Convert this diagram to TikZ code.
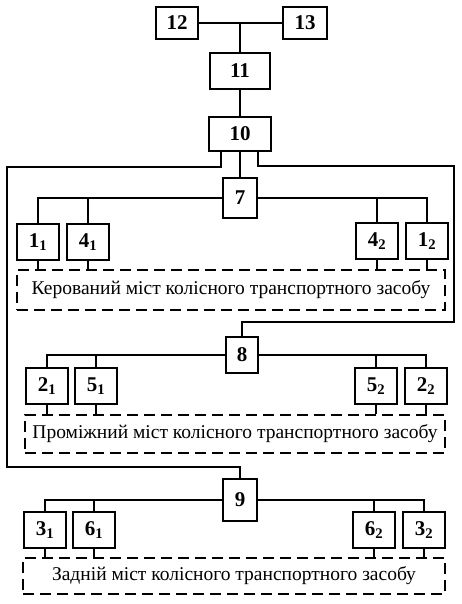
\documentclass[tikz,border=0pt]{standalone}
\usepackage{fontspec}
\setmainfont{Liberation Serif}

\begin{document}
\begin{tikzpicture}[x=1pt,y=-1pt,line width=2pt]

      \useasboundingbox (0,0) rectangle (462,604);

      \begin{scope}[every node/.style={draw,inner sep=0pt,minimum width=42pt,minimum height=36pt,
                    font=\fontsize{21}{21}\selectfont\bfseries}]
        \node (12) at (177,23)  [minimum height=32pt] {12};
        \node (13) at (305,23)  [minimum width=44pt,minimum height=32pt] {13};
        \node (11) at (240,71)  [minimum width=60pt] {11};
        \node (10) at (240,134) [minimum width=62pt,minimum height=34pt] {10};
        \node (7)  at (240,198) [minimum width=34pt,minimum height=40pt] {7};
        \node (8)  at (242,355) [minimum width=32pt] {8};
        \node (9)  at (240,500) [minimum width=34pt,minimum height=42pt] {9};
        \node (1l) at (38,242)  {1\textsubscript{1}};
        \node (4l) at (88,242)  {4\textsubscript{1}};
        \node (4r) at (377,241) {4\textsubscript{2}};
        \node (1r) at (427,241) {1\textsubscript{2}};
        \node (2l) at (47,386)  {2\textsubscript{1}};
        \node (5l) at (96,386)  {5\textsubscript{1}};
        \node (5r) at (376,386) {5\textsubscript{2}};
        \node (2r) at (426,386) {2\textsubscript{2}};
        \node (3l) at (45,530)  {3\textsubscript{1}};
        \node (6l) at (94,530)  {6\textsubscript{1}};
        \node (6r) at (374,530) {6\textsubscript{2}};
        \node (3r) at (424,530) {3\textsubscript{2}};
      \end{scope}

      \begin{scope}[every node/.style={draw,dashed,dash pattern=on 11pt off 6pt,inner sep=0pt,
                    font=\fontsize{19.5}{19.5}\selectfont}]
        \node (axle1) at (231,290) [minimum width=428pt,minimum height=40pt]
          {Керований міст колісного транспортного засобу};
        \node (axle2) at (235,434) [minimum width=420pt,minimum height=38pt]
          {Проміжний міст колісного транспортного засобу};
        \node (axle3) at (234,576) [minimum width=422pt,minimum height=36pt]
          {Задній міст колісного транспортного засобу};
      \end{scope}

      \coordinate (lt) at (7,167);
      \coordinate (lb) at (7,467);
      \coordinate (rt) at (454,166);
      \coordinate (rb) at (454,322);

      \draw (12) -- (13);
      \draw (11.north) -- (11.north |- 12.east);
      \draw (11) -- (10);
      \draw (10) -- (7);
      \draw ([xshift=-19pt]10.south) |- (lt) -- (lb) -| (9.north);
      \draw ([xshift=18pt]10.south) |- (rt) -- (rb) -| (8.north);

      \foreach \a/\b/\c in {7/1l/4l, 8/2l/5l, 9/3l/6l} {
        \draw (\b.north) |- (\a.west);
        \draw (\c.north) -- (\c.north |- \a.west);
      }
      \foreach \a/\b/\c in {7/1r/4r, 8/2r/5r, 9/3r/6r} {
        \draw (\b.north) |- (\a.east);
        \draw (\c.north) -- (\c.north |- \a.east);
      }

      \foreach \n in {1l,4l,4r,1r} \draw (\n.south) -- (\n.south |- axle1.north);
      \foreach \n in {2l,5l,5r,2r} \draw (\n.south) -- (\n.south |- axle2.north);
      \foreach \n in {3l,6l,6r,3r} \draw (\n.south) -- (\n.south |- axle3.north);

    \end{tikzpicture}
\end{document}
